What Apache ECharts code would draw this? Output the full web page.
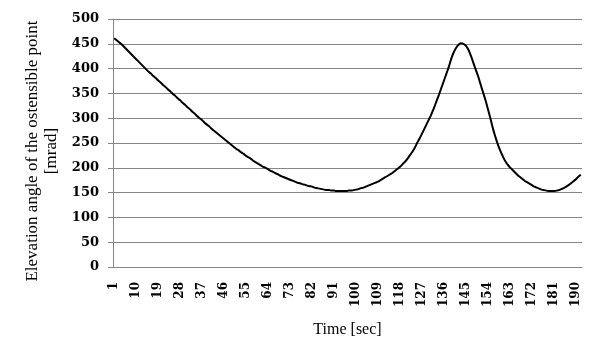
<!DOCTYPE html>
<html>
<head>
<meta charset="utf-8">
<script src="https://cdn.jsdelivr.net/npm/echarts@6/dist/echarts.min.js"></script>
<style>
  html, body { margin: 0; padding: 0; background: #fff; }
  #chart { width: 602px; height: 361px; }
</style>
</head>
<body>
<div id="chart"></div>
<script>
// time in seconds (categories 1..192)
var times = [];
for (var t = 1; t <= 192; t++) times.push(String(t));

// elevation angle [mrad]
var elevation = [
  461, 457, 453, 449, 444, 439, 434, 429, 424, 419,
  414, 409, 404, 399, 394, 390, 385, 381, 376, 372,
  367, 363, 358, 354, 349, 345, 340, 336, 331, 327,
  322, 318, 313, 309, 304, 300, 296, 291, 287, 283,
  278, 274, 270, 266, 262, 258, 254, 250, 246, 242,
  238, 235, 231, 228, 224, 221, 218, 214, 211, 208,
  205, 202, 200, 197, 194, 192, 189, 187, 184, 182,
  180, 178, 176, 174, 172, 170, 169, 167, 166, 164,
  163, 162, 160, 159, 158, 157, 156, 155, 155, 154,
  154, 153, 153, 153, 153, 153, 154, 154, 155, 156,
  157, 159, 160, 162, 164, 166, 168, 170, 172, 175,
  178, 181, 184, 187, 190, 194, 198, 202, 207, 212,
  218, 225, 232, 240, 250, 259, 269, 279, 289, 299,
  310, 322, 335, 348, 362, 376, 390, 404, 420, 433,
  442, 448, 451, 450, 446, 438, 426, 412, 398, 384,
  368, 352, 336, 318, 300, 280, 263, 248, 235, 224,
  214, 207, 201, 196, 191, 186, 182, 178, 174, 171,
  168, 165, 162, 160, 158, 156, 155, 154, 153, 153,
  153, 154, 155, 157, 159, 162, 165, 169, 173, 177,
  182, 186
];

var chart = echarts.init(document.getElementById('chart'));

var option = {
    animation: false,
    grid: {
        left: 113,
        right: 20,
        top: 19,
        bottom: 94
    },
    xAxis: {
        type: 'category',
        data: times,
        boundaryGap: true,
        name: 'Time [sec]',
        nameLocation: 'middle',
        nameGap: 55,
        nameTextStyle: {
            fontFamily: 'Liberation Serif',
            fontSize: 16,
            color: '#000'
        },
        axisLine: {
            lineStyle: { color: '#868686' }
        },
        axisTick: {
            interval: 0,
            length: 4,
            lineStyle: { color: '#868686' }
        },
        axisLabel: {
            interval: 8,
            rotate: 90,
            margin: 15,
            fontFamily: 'DejaVu Serif',
            fontWeight: 'bold',
            fontSize: 12,
            color: '#000'
        },
        splitLine: { show: false }
    },
    yAxis: {
        type: 'value',
        min: 0,
        max: 500,
        interval: 50,
        name: 'Elevation angle of the ostensible point\n[mrad]',
        nameLocation: 'middle',
        nameGap: 44,
        nameTextStyle: {
            fontFamily: 'Liberation Serif',
            fontSize: 17,
            color: '#000',
            lineHeight: 19,
            align: 'center',
            padding: [0, 16, 0, 0]
        },
        axisLine: {
            show: true,
            lineStyle: { color: '#868686' }
        },
        axisTick: {
            show: true,
            length: 5,
            lineStyle: { color: '#868686' }
        },
        axisLabel: {
            margin: 14,
            fontFamily: 'DejaVu Serif',
            fontWeight: 'bold',
            fontSize: 13,
            color: '#000'
        },
        splitLine: {
            lineStyle: { color: '#868686', width: 1 }
        }
    },
    series: [
        {
            type: 'line',
            data: elevation,
            smooth: true,
            showSymbol: false,
            lineStyle: { color: '#000', width: 2 }
        }
    ]
};

chart.setOption(option);
</script>
</body>
</html>
